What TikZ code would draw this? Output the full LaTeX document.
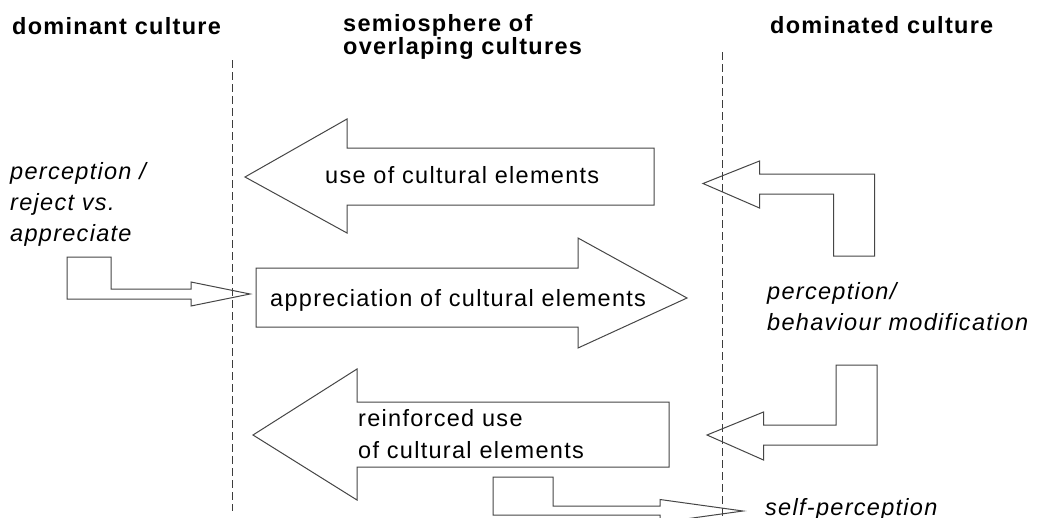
\documentclass[tikz,border=0pt]{standalone}
\usepackage{fontspec}
\setmainfont{Liberation Sans}[LetterSpace=5.5]
\definecolor{edge}{RGB}{70,70,70}
\definecolor{divc}{RGB}{60,60,60}
\begin{document}
\begin{tikzpicture}[x=1pt,y=-1pt,
  arrowshape/.style={draw=edge, line width=1pt, line join=miter},
  divider/.style={draw=divc, line width=1pt, dash pattern=on 8pt off 4pt},
  head/.style={font=\fontsize{23.5}{21}\selectfont\bfseries, inner sep=0pt, anchor=base west, align=left},
  lbl/.style={font=\fontsize{23.5}{31}\selectfont\itshape, inner sep=0pt, anchor=base west, align=left},
  txt/.style={font=\fontsize{23.5}{32}\selectfont, inner sep=0pt, anchor=base west, align=left}]
\clip (0,0) rectangle (1039,517);
\fill[white] (0,0) rectangle (1039,517);
% headings
\node[head] (hdom) at (12,34) {dominant culture};
\node[head] (hsemi) at (343,54) {semiosphere of\\overlaping cultures};
\node[head] (hdomd) at (770,33) {dominated culture};
% dividers
\coordinate (d1t) at (232,60);
\coordinate (d1b) at (232,511);
\coordinate (d2t) at (722,52);
\coordinate (d2b) at (722,517);
\draw[divider] (d1t) -- (d1b);
\draw[divider] (d2t) -- (d2b);
% big arrow 1 (left)
\draw[arrowshape] (245,177) -- (347,119) -- (347,148) -- (654,148) -- (654,205) -- (347,205) -- (347,233) -- cycle;
\node[txt] (t1) at (325,183) {use of cultural elements};
% big arrow 2 (right)
\draw[arrowshape] (256,268) -- (578,268) -- (578,238) -- (687,298) -- (578,348) -- (578,327) -- (256,327) -- cycle;
\node[txt] (t2) at (270,306.5) {appreciation of cultural elements};
% big arrow 3 (left)
\draw[arrowshape] (253,435) -- (357,369) -- (357,402) -- (669,402) -- (669,467) -- (357,467) -- (357,500) -- cycle;
\node[txt] (t3) at (358,458) {reinforced use\\of cultural elements};
% bent arrow A
\draw[arrowshape] (703,183.5) -- (759.5,161) -- (759.5,174) -- (874.5,174) -- (874.5,256) -- (833.5,256) -- (833.5,194) -- (759.5,194) -- (759.5,208) -- cycle;
% bent arrow B
\draw[arrowshape] (67,257) -- (111,257) -- (111,289) -- (191,289) -- (191,282) -- (250,294) -- (191,306) -- (191,299) -- (67,299) -- cycle;
% bent arrow C
\draw[arrowshape] (707,435) -- (763.5,412) -- (763.5,425) -- (836,425) -- (836,365) -- (877,365) -- (877,445) -- (763.5,445) -- (763.5,460) -- cycle;
% bent arrow D
\draw[arrowshape] (493,477) -- (553,477) -- (553,506) -- (660,506) -- (660,499.5) -- (743,511) -- (660,522.5) -- (660,515) -- (493,515) -- cycle;
% italic labels
\node[lbl] (l1) at (10,241) {perception /\\reject vs.\\appreciate};
\node[lbl] (l2) at (767,330) {perception/\\behaviour modification};
\node[lbl] (l3) at (765,515) {self-perception};
\end{tikzpicture}
\end{document}
